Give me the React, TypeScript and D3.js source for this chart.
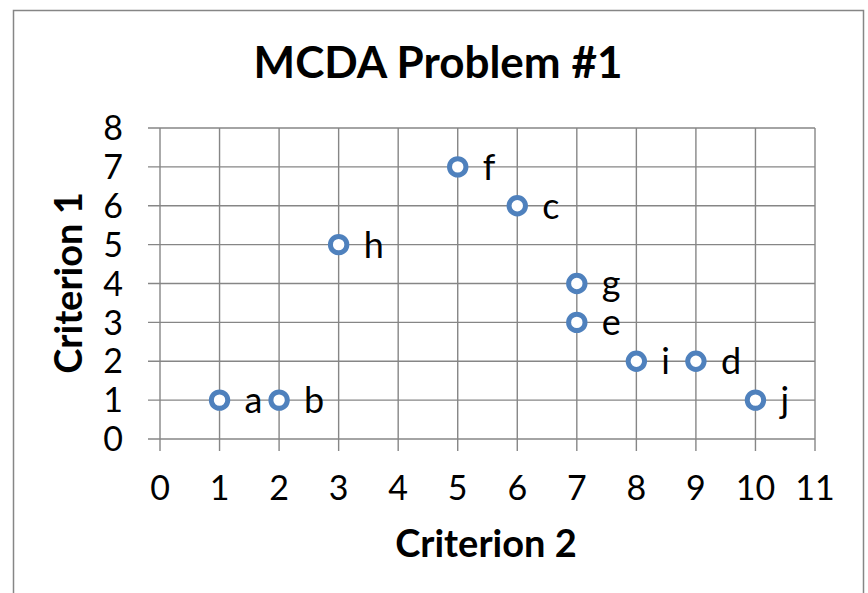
import React from 'react';
import * as d3 from 'd3';

// point names with their scores
const names = ['a', 'b', 'c', 'd', 'e', 'f', 'g', 'h', 'i', 'j'];
const criterion2 = [1, 2, 6, 9, 7, 5, 7, 3, 8, 10];
const criterion1 = [1, 1, 6, 2, 3, 7, 4, 5, 2, 1];

const xTicks = [0, 1, 2, 3, 4, 5, 6, 7, 8, 9, 10, 11];
const yTicks = [0, 1, 2, 3, 4, 5, 6, 7, 8];

const chartTitle = 'MCDA Problem #1';
const xTitle = 'Criterion 2';
const yTitle = 'Criterion 1';

const W = 868;
const H = 593;
const FONT = 'Lato, "Open Sans", sans-serif';
const GRID = '#868686';
const BLUE = '#4F81BD';

const App: React.FC = () => {
  const margin = { left: 160, right: 53, top: 128, bottom: 154 };

  const x = d3.scaleLinear().domain([0, 11]).range([margin.left, W - margin.right]);
  const y = d3.scaleLinear().domain([0, 8]).range([H - margin.bottom, margin.top]);

  const points = names.map((n, i) => ({ name: n, cx: criterion2[i], cy: criterion1[i] }));

  return (
    <svg
      width={W}
      height={H}
      style={{ position: 'absolute', left: 0, top: 0, background: '#fff' }}
      fontFamily={FONT}
    >
      {/* outer frame (bottom edge runs off the picture) */}
      <rect x={13.5} y={10.5} width={850} height={H + 20} fill="none" stroke={GRID} strokeWidth={1.5} />

      <text x={438} y={78} textAnchor="middle" fontSize={44} fontWeight={700} fill="#000">
        {chartTitle}
      </text>

      {/* horizontal grid + ticks */}
      {yTicks.map((t) => (
        <g key={'y' + t}>
          <line x1={x(0) - 12} x2={x(11)} y1={y(t)} y2={y(t)} stroke={GRID} strokeWidth={1.4} />
          <text x={123} y={y(t)} dy="0.36em" textAnchor="end" fontSize={34} fill="#000">
            {t}
          </text>
        </g>
      ))}

      {/* vertical grid + ticks */}
      {xTicks.map((t) => (
        <g key={'x' + t}>
          <line x1={x(t)} x2={x(t)} y1={y(8)} y2={y(0) + 12} stroke={GRID} strokeWidth={1.4} />
          <text x={x(t)} y={500} textAnchor="middle" fontSize={34} fill="#000">
            {t}
          </text>
        </g>
      ))}

      {/* points */}
      {points.map((p) => (
        <g key={p.name}>
          <circle cx={x(p.cx)} cy={y(p.cy)} r={8.2} fill="#fff" stroke={BLUE} strokeWidth={5} />
          <text x={x(p.cx) + 25} y={y(p.cy)} dy="0.36em" fontSize={36} fill="#000">
            {p.name}
          </text>
        </g>
      ))}

      <text x={486} y={557} textAnchor="middle" fontSize={38} fontWeight={700} fill="#000">
        {xTitle}
      </text>
      <text
        transform={`translate(82,283) rotate(-90)`}
        textAnchor="middle"
        fontSize={38}
        fontWeight={700}
        fill="#000"
      >
        {yTitle}
      </text>
    </svg>
  );
};

export default App;
